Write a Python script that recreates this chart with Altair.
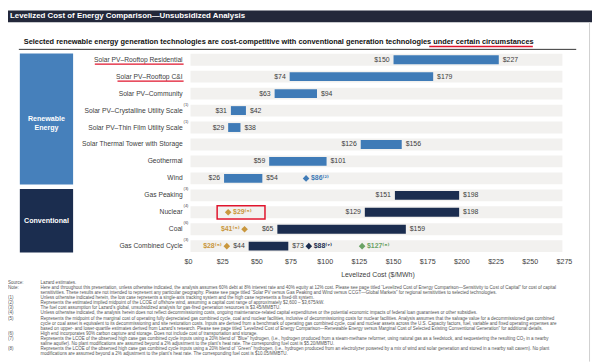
import altair as alt
import pandas as pd

# ---------------- data ----------------
rows = [
    "Solar PV–Rooftop Residential",
    "Solar PV–Rooftop C&I",
    "Solar PV–Community",
    "Solar PV–Crystalline Utility Scale",
    "Solar PV–Thin Film Utility Scale",
    "Solar Thermal Tower with Storage",
    "Geothermal",
    "Wind",
    "Gas Peaking",
    "Nuclear",
    "Coal",
    "Gas Combined Cycle",
]
groups = ["Renewable"] * 8 + ["Conventional"] * 4
low = [150, 74, 63, 31, 29, 126, 59, 26, 151, 129, 65, 44]
high = [227, 179, 94, 42, 38, 156, 101, 54, 198, 198, 159, 73]
notes = ["", "", "", "(1)", "(1)", "", "", "", "(3)", "(4)", "(6)", "(3)"]

marker_rows = ["Wind", "Nuclear", "Coal", "Gas Combined Cycle", "Gas Combined Cycle", "Gas Combined Cycle"]
marker_values = [86, 29, 41, 28, 88, 127]
marker_labels = ["$86⁽²⁾", "$29⁽⁵⁾", "$41⁽⁵⁾", "$28⁽⁵⁾", "$88⁽⁷⁾", "$127⁽⁸⁾"]
marker_kinds = ["offshore", "marginal", "marginal", "marginal", "blue_h2", "green_h2"]
marker_sides = ["right", "right", "left", "left", "right", "right"]

ticks = [0, 25, 50, 75, 100, 125, 150, 175, 200, 225, 250, 275]
tick_labels = ["$" + str(t) for t in ticks]

title_text = "Levelized Cost of Energy Comparison—Unsubsidized Analysis"
subtitle_text = ("Selected renewable energy generation technologies are cost-competitive with "
                 "conventional generation technologies under certain circumstances")
x_title = "Levelized Cost ($/MWh)"

foot_tags = ["Source:", "Note:", "", "(1)", "(2)", "(3)", "(4)", "(5)", "", "", "(6)", "(7)", "", "(8)", ""]
foot_texts = [
    "Lazard estimates.",
    "Here and throughout this presentation, unless otherwise indicated, the analysis assumes 60% debt at 8% interest rate and 40% equity at 12% cost. Please see page titled “Levelized Cost of Energy Comparison—Sensitivity to Cost of Capital” for cost of capital",
    "sensitivities. These results are not intended to represent any particular geography. Please see page titled “Solar PV versus Gas Peaking and Wind versus CCGT—Global Markets” for regional sensitivities to selected technologies.",
    "Unless otherwise indicated herein, the low case represents a single-axis tracking system and the high case represents a fixed-tilt system.",
    "Represents the estimated implied midpoint of the LCOE of offshore wind, assuming a capital cost range of approximately $2,600 – $3,675/kW.",
    "The fuel cost assumption for Lazard’s global, unsubsidized analysis for gas-fired generation resources is $3.45/MMBTU.",
    "Unless otherwise indicated, the analysis herein does not reflect decommissioning costs, ongoing maintenance-related capital expenditures or the potential economic impacts of federal loan guarantees or other subsidies.",
    "Represents the midpoint of the marginal cost of operating fully depreciated gas combined cycle, coal and nuclear facilities, inclusive of decommissioning costs for nuclear facilities. Analysis assumes that the salvage value for a decommissioned gas combined",
    "cycle or coal asset is equivalent to its decommissioning and site restoration costs. Inputs are derived from a benchmark of operating gas combined cycle, coal and nuclear assets across the U.S. Capacity factors, fuel, variable and fixed operating expenses are",
    "based on upper- and lower-quartile estimates derived from Lazard’s research. Please see page titled “Levelized Cost of Energy Comparison—Renewable Energy versus Marginal Cost of Selected Existing Conventional Generation” for additional details.",
    "High end incorporates 90% carbon capture and storage. Does not include cost of transportation and storage.",
    "Represents the LCOE of the observed high case gas combined cycle inputs using a 20% blend of “Blue” hydrogen, (i.e., hydrogen produced from a steam-methane reformer, using natural gas as a feedstock, and sequestering the resulting CO₂ in a nearby",
    "saline aquifer). No plant modifications are assumed beyond a 2% adjustment to the plant’s heat rate. The corresponding fuel cost is $5.20/MMBTU.",
    "Represents the LCOE of the observed high case gas combined cycle inputs using a 20% blend of “Green” hydrogen, (i.e., hydrogen produced from an electrolyzer powered by a mix of wind and solar generation and stored in a nearby salt cavern). No plant",
    "modifications are assumed beyond a 2% adjustment to the plant’s heat rate. The corresponding fuel cost is $10.05/MMBTU.",
]

# ---------------- styling ----------------
FONT = "Liberation Sans, Arial, DejaVu Sans"
W, H = 592, 356
BLUE = "#3f7bb7"
BOX_BLUE = "#4680bb"
NAVY = "#1b2d4f"
GOLD = "#c9973d"
GREEN = "#6aa264"
RED = "#e0142c"
GREYTXT = "#3c3c3c"

xscale = alt.Scale(domain=[0, 275], range=[183, 564], nice=False, zero=False)
yscale = alt.Scale(type="point", domain=rows, range=[50, 239], padding=0)

df = pd.DataFrame({"row": rows, "group": groups, "low": low, "high": high, "note": notes})
mk = pd.DataFrame({"row": marker_rows, "value": marker_values, "label": marker_labels,
                   "kind": marker_kinds, "side": marker_sides})
tk = pd.DataFrame({"tick": ticks, "label": tick_labels})
grp = pd.DataFrame({"group": ["Renewable", "Conventional"],
                    "first": ["Solar PV–Rooftop Residential", "Gas Peaking"],
                    "last": ["Wind", "Gas Combined Cycle"]})
fn = pd.DataFrame({"line": list(range(len(foot_texts))), "tag": foot_tags, "text": foot_texts})
one = pd.DataFrame({"k": [0]})

Y = alt.Y("row:N", scale=yscale, axis=None)
Y2 = alt.Y2("row")
gcolor = alt.Color("group:N", scale=alt.Scale(domain=["Renewable", "Conventional"], range=[BLUE, NAVY]), legend=None)
mcolor = alt.Color("kind:N", scale=alt.Scale(domain=["offshore", "marginal", "blue_h2", "green_h2"],
                                             range=[BLUE, GOLD, NAVY, GREEN]), legend=None)

layers = []

# title bar
layers.append(alt.Chart(one).mark_rect(color="#23283a").encode(
    x=alt.value(0), x2=alt.value(W), y=alt.value(0), y2=alt.value(12)))
layers.append(alt.Chart(one).mark_text(font=FONT, fontSize=8, fontWeight="bold", color="white",
                                       align="left", baseline="middle").encode(
    x=alt.value(2), y=alt.value(6), text=alt.value(title_text)))

# right page border
layers.append(alt.Chart(one).mark_rule(color="#cfcfcf", strokeWidth=1).encode(
    x=alt.value(589.5), y=alt.value(12), y2=alt.value(H)))

# subtitle
layers.append(alt.Chart(one).mark_text(font=FONT, fontSize=7.5, fontWeight="bold", color="#111111",
                                       align="left", baseline="middle").encode(
    x=alt.value(16), y=alt.value(32), text=alt.value(subtitle_text)))
layers.append(alt.Chart(one).mark_rule(color=RED, strokeWidth=1.5).encode(
    x=alt.value(427), x2=alt.value(532), y=alt.value(36.5)))
layers.append(alt.Chart(one).mark_rule(color="#333333", strokeWidth=1).encode(
    x=alt.value(11), x2=alt.value(576), y=alt.value(39.5)))

# group boxes
layers.append(alt.Chart(grp).mark_rect(yOffset=-6.3, y2Offset=6.3).encode(
    x=alt.value(12), x2=alt.value(66),
    y=alt.Y("first:N", scale=yscale, axis=None), y2=alt.Y2("last"),
    color=alt.Color("group:N", scale=alt.Scale(domain=["Renewable", "Conventional"], range=[BOX_BLUE, NAVY]), legend=None)))
layers.append(alt.Chart(one).mark_text(font=FONT, fontSize=7.2, fontWeight="bold", color="white",
                                       align="center", baseline="middle", lineHeight=9).encode(
    x=alt.value(39), y=alt.value(110), text=alt.value(["Renewable", "Energy"])))
layers.append(alt.Chart(one).mark_text(font=FONT, fontSize=7.2, fontWeight="bold", color="white",
                                       align="center", baseline="middle").encode(
    x=alt.value(39), y=alt.value(213), text=alt.value("Conventional")))

# grey row bands
layers.append(alt.Chart(df).mark_rect(color="#f2f1ef", yOffset=-6, y2Offset=6).encode(
    x=alt.value(185), x2=alt.value(562), y=Y, y2=Y2))

# range bars
layers.append(alt.Chart(df).mark_rect(yOffset=-4.5, y2Offset=4.5).encode(
    x=alt.X("low:Q", scale=xscale, axis=None), x2="high:Q", y=Y, y2=Y2, color=gcolor))

# low / high labels
layers.append(alt.Chart(df).mark_text(font=FONT, fontSize=7, color=GREYTXT, align="right",
                                      baseline="middle", dx=-4).encode(
    x=alt.X("low:Q", scale=xscale, axis=None), y=Y, text=alt.Text("low:Q", format="$d")))
layers.append(alt.Chart(df).mark_text(font=FONT, fontSize=7, color=GREYTXT, align="left",
                                      baseline="middle", dx=4).encode(
    x=alt.X("high:Q", scale=xscale, axis=None), y=Y, text=alt.Text("high:Q", format="$d")))

# category labels
layers.append(alt.Chart(df).mark_text(font=FONT, fontSize=6.8, color=GREYTXT, align="right",
                                      baseline="middle").encode(
    x=alt.value(177), y=Y, text="row:N"))
layers.append(alt.Chart(df).transform_filter("datum.note != ''").mark_text(
    font=FONT, fontSize=4, color=GREYTXT, align="left", baseline="middle", dy=-6).encode(
    x=alt.value(178), y=Y, text="note:N"))

# red underlines on the two rooftop rows
layers.append(alt.Chart(df).transform_filter(alt.datum.row == rows[0]).mark_rule(
    color=RED, strokeWidth=1.3, yOffset=4.4).encode(x=alt.value(88), x2=alt.value(178), y=Y))
layers.append(alt.Chart(df).transform_filter(alt.datum.row == rows[1]).mark_rule(
    color=RED, strokeWidth=1.3, yOffset=4.6).encode(x=alt.value(111), x2=alt.value(178), y=Y))

# diamonds and their labels
layers.append(alt.Chart(mk).mark_point(shape="diamond", filled=True, size=45, opacity=1).encode(
    x=alt.X("value:Q", scale=xscale, axis=None), y=Y, color=mcolor))
layers.append(alt.Chart(mk).transform_filter("datum.side == 'right'").mark_text(
    font=FONT, fontSize=7, fontWeight="bold", align="left", baseline="middle", dx=5).encode(
    x=alt.X("value:Q", scale=xscale, axis=None), y=Y, text="label:N", color=mcolor))
layers.append(alt.Chart(mk).transform_filter("datum.side == 'left'").mark_text(
    font=FONT, fontSize=7, fontWeight="bold", align="right", baseline="middle", dx=-5).encode(
    x=alt.X("value:Q", scale=xscale, axis=None), y=Y, text="label:N", color=mcolor))

# red highlight box on nuclear marginal cost
layers.append(alt.Chart(df).transform_filter(alt.datum.row == "Nuclear").mark_rect(
    fill=None, stroke=RED, strokeWidth=1.5, yOffset=-6.7, y2Offset=6.7).encode(
    x=alt.value(212), x2=alt.value(260.5), y=Y, y2=Y2))

# x tick labels and title
layers.append(alt.Chart(tk).mark_text(font=FONT, fontSize=7.2, color=GREYTXT, baseline="middle").encode(
    x=alt.X("tick:Q", scale=xscale, axis=None), y=alt.value(255), text="label:N"))
layers.append(alt.Chart(one).mark_text(font=FONT, fontSize=7, color=GREYTXT, baseline="middle").encode(
    x=alt.value(375), y=alt.value(268), text=alt.value(x_title)))

# footnotes
fy = alt.Y("line:Q", scale=alt.Scale(domain=[0, 14], range=[276, 276 + 14 * 5.2], nice=False, zero=False), axis=None)
layers.append(alt.Chart(fn).mark_text(font=FONT, fontSize=4.6, color="#555555", align="left",
                                      baseline="middle").encode(
    x=alt.value(0), y=fy, text="tag:N"))
layers.append(alt.Chart(fn).mark_text(font=FONT, fontSize=4.6, color="#555555", align="left",
                                      baseline="middle").encode(
    x=alt.value(33), y=fy, text="text:N"))

chart = alt.layer(*layers).resolve_scale(y="independent", color="independent").properties(
    width=W, height=H, padding=0, autosize=alt.AutoSizeParams(type="none")
).configure_view(stroke=None)

chart.save("out.html", embed_options={"renderer": "svg", "actions": False})
